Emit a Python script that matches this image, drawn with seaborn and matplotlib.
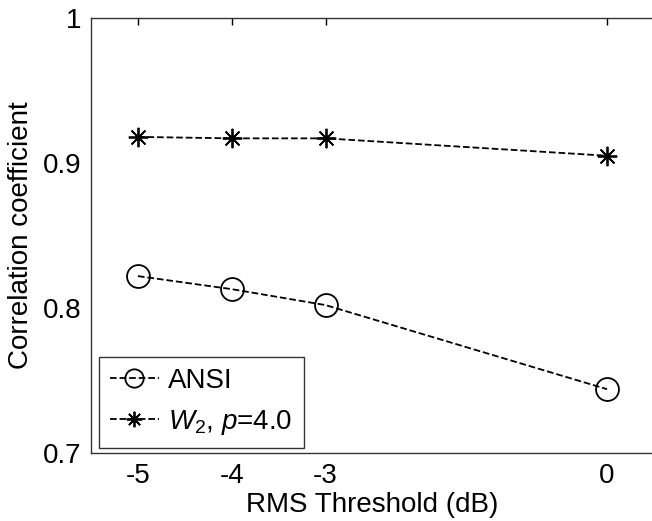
import matplotlib
matplotlib.use("Agg")
import matplotlib.pyplot as plt
import seaborn as sns
import pandas as pd

thresholds = [-5, -4, -3, 0]
ansi = [0.822, 0.813, 0.802, 0.744]
w2 = [0.918, 0.917, 0.917, 0.905]
xticks = [-5, -4, -3, 0]
yticks = [0.7, 0.8, 0.9, 1.0]
ytick_labels = ["0.7", "0.8", "0.9", "1"]

sns.set_theme(style="white")
plt.rcParams['font.family'] = ['Liberation Sans', 'DejaVu Sans']
plt.rcParams['mathtext.fontset'] = 'custom'
plt.rcParams['mathtext.rm'] = 'Liberation Sans'
plt.rcParams['mathtext.it'] = 'Liberation Sans:italic'
plt.rcParams['text.color'] = 'black'

FS = 20

fig = plt.figure(figsize=(6.52, 5.21), dpi=100)
ax = fig.add_axes([91/652, 68/521, 563/652, 435/521])

df_a = pd.DataFrame({"x": thresholds, "y": ansi})
df_w = pd.DataFrame({"x": thresholds, "y": w2})

sns.lineplot(data=df_a, x="x", y="y", ax=ax, color="black", linestyle="--",
             linewidth=1.3, marker="o", markersize=16.5, markerfacecolor="none",
             markeredgecolor="black", markeredgewidth=1.3, label="ANSI")
sns.lineplot(data=df_w, x="x", y="y", ax=ax, color="black", linestyle="--",
             linewidth=1.3, marker=(8, 2, 0), markersize=14,
             markeredgecolor="black", markeredgewidth=1.3,
             label="$W_2$, $p$=4.0")

ax.set_xlim(-5.5, 0.5)
ax.set_ylim(0.7, 1.0)
ax.set_xticks(xticks)
ax.set_xticklabels([str(t) for t in xticks])
ax.set_yticks(yticks)
ax.set_yticklabels(ytick_labels)
ax.tick_params(direction="in", length=5, width=1, colors="black",
               labelsize=FS, top=True, right=False, pad=7)
for s in ax.spines.values():
    s.set_color("#333333")
    s.set_linewidth(1.0)

ax.set_xlabel("RMS Threshold (dB)", fontsize=FS, color="black", labelpad=2)
ax.set_ylabel("Correlation coefficient", fontsize=FS, color="black", labelpad=6)

leg = ax.legend(loc="lower left", bbox_to_anchor=(0.014, 0.012), fontsize=FS,
                handlelength=1.75, handletextpad=0.35, borderpad=0.4,
                labelspacing=0.5, frameon=True, fancybox=False,
                edgecolor="black", borderaxespad=0, markerscale=0.8,
                labelcolor="black")
leg.get_frame().set_linewidth(1.0)

fig.savefig("out.png", dpi=100)
